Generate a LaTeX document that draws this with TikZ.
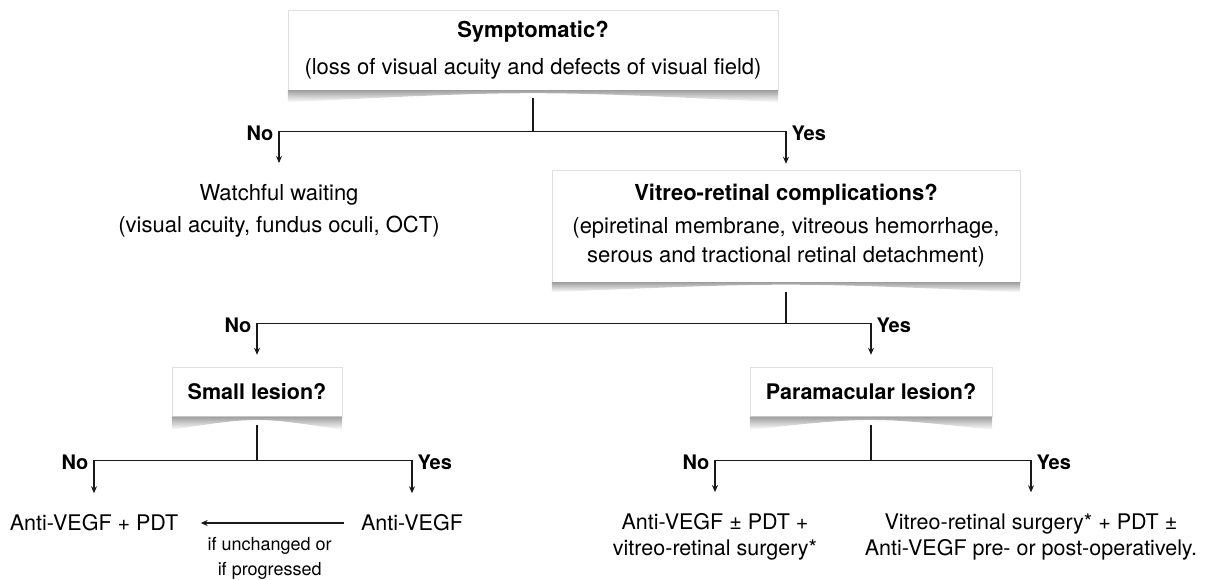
\documentclass[tikz,border=0pt]{standalone}
\usepackage{fontspec}
\setmainfont{TeX Gyre Heros}
\usepackage{tikz}
\usetikzlibrary{shadings,arrows.meta}

\newcommand{\liftshadow}[2]{\shade[top color=gray!75,bottom color=white] (#1.south west) -- ([yshift=-#2]#1.south west) .. controls (#1.south) and (#1.south) .. ([yshift=-#2]#1.south east) -- (#1.south east) -- cycle;}

\begin{document}
\begin{tikzpicture}[x=1pt,y=-1pt,
    qbox/.style={draw=gray!25,fill=white,align=center,inner sep=4pt,font=\fontsize{22}{29}\selectfont},
    qhead/.style={qbox,font=\bfseries\fontsize{21.5}{26}\selectfont,minimum height=49},
    txt/.style={align=center,font=\fontsize{21.5}{26}\selectfont},
    lbl/.style={font=\bfseries\fontsize{20}{24}\selectfont,text height=14.5pt,text depth=0pt,inner sep=5pt,yshift=-2pt},
    link/.style={line width=1.2pt,draw=black!90},
    arr/.style={-{Stealth[length=7pt,width=6pt]}},
    totext/.style={shorten >=18pt}]

\useasboundingbox (0,0) rectangle (1211,580);

\node[qbox,minimum width=490,minimum height=80] (sympt) at (533,50) {\textbf{Symptomatic?}\\[8pt](loss of visual acuity and defects of visual field)};
\node[txt,font=\fontsize{22}{32}\selectfont] (wait) at (279,211) {Watchful waiting\\(visual acuity, fundus oculi, OCT)};
\node[qbox,minimum width=468,minimum height=112] (vitreo) at (786,226) {\textbf{Vitreo-retinal complications?}\\[4pt](epiretinal membrane, vitreous hemorrhage,\\serous and tractional retinal detachment)};
\node[qhead,minimum width=170] (small) at (257,392) {Small lesion?};
\node[qhead,minimum width=242] (para) at (871,392) {Paramacular lesion?};
\node[txt] (combo) at (94,523) {Anti-VEGF + PDT};
\node[txt] (anti) at (412,523) {Anti-VEGF};
\node[txt] (surga) at (715,537) {Anti-VEGF ± PDT +\\vitreo-retinal surgery*};
\node[txt] (surgb) at (1031,537) {Vitreo-retinal surgery* + PDT ±\\Anti-VEGF pre- or post-operatively.};

\liftshadow{sympt}{12pt}
\liftshadow{vitreo}{10pt}
\liftshadow{small}{13pt}
\liftshadow{para}{13pt}

\draw[link] ([yshift=-8pt]sympt.south) -- ++(0,33) coordinate (b1);
\draw[link,arr,totext] (b1) -| node[lbl,left,midway] (no1) {No} (wait.north);
\draw[link,arr,shorten >=6pt] (b1) -| node[lbl,right,midway] (yes1) {Yes} (vitreo.north);

\draw[link] ([yshift=-10pt]vitreo.south) -- ++(0,31) coordinate (b2);
\draw[link,arr,shorten >=12.5pt] (b2) -| node[lbl,left,midway] (no2) {No} (small.north);
\draw[link,arr,shorten >=12.5pt] (b2) -| node[lbl,right,midway] (yes2) {Yes} (para.north);

\draw[link] ([yshift=-8pt]small.south) -- ++(0,36) coordinate (b3);
\draw[link,arr,totext] (b3) -| node[lbl,left,midway] (no3) {No} (combo.north);
\draw[link,arr,totext] (b3) -| node[lbl,right,midway] (yes3) {Yes} (anti.north);

\draw[link] ([yshift=-8pt]para.south) -- ++(0,36) coordinate (b4);
\draw[link,arr,totext] (b4) -| node[lbl,left,midway] (no4) {No} (surga.north);
\draw[link,arr,totext] (b4) -| node[lbl,right,midway] (yes4) {Yes} (surgb.north);

\draw[link,arr,shorten <=14pt,shorten >=19pt] (anti.west) -- node[below=10pt,align=center,font=\fontsize{18}{25}\selectfont] (cond) {if unchanged or\\if progressed} (combo.east);

\end{tikzpicture}
\end{document}
